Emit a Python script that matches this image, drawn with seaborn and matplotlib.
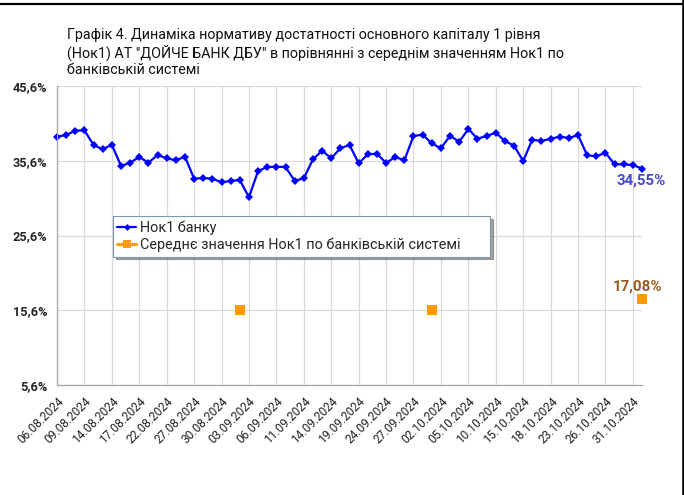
import numpy as np
import matplotlib
matplotlib.use("Agg")
import matplotlib.pyplot as plt
from matplotlib.lines import Line2D
from matplotlib.ticker import FuncFormatter
import seaborn as sns

# Нок1 банку, % (one value per reporting day)
nok1_bank = [38.82, 39.04, 39.62, 39.67, 37.71, 37.13, 37.75, 34.90, 35.34, 36.10,
             35.34, 36.37, 35.93, 35.66, 36.14, 33.20, 33.29, 33.20, 32.72, 32.89,
             33.02, 30.71, 34.23, 34.76, 34.80, 34.76, 32.93, 33.24, 35.79, 36.95,
             35.93, 37.27, 37.71, 35.26, 36.46, 36.55, 35.30, 36.10, 35.66, 38.91,
             39.09, 37.93, 37.27, 38.95, 38.13, 39.85, 38.55, 38.91, 39.35, 38.24,
             37.62, 35.57, 38.42, 38.24, 38.55, 38.82, 38.64, 39.04, 36.33, 36.19,
             36.68, 35.12, 35.12, 35.03, 34.55]

# середнє по банківській системі - only three reporting days
avg_idx = [20, 41, 64]
avg_system = [15.58, 15.58, 17.08]

tick_labels = ["06.08.2024", "09.08.2024", "14.08.2024", "17.08.2024", "22.08.2024",
               "27.08.2024", "30.08.2024", "03.09.2024", "06.09.2024", "11.09.2024",
               "14.09.2024", "19.09.2024", "24.09.2024", "27.09.2024", "02.10.2024",
               "05.10.2024", "10.10.2024", "15.10.2024", "18.10.2024", "23.10.2024",
               "26.10.2024", "31.10.2024"]

title = ("Графік 4. Динаміка нормативу достатності основного капіталу 1 рівня\n"
         "(Нок1) АТ \"ДОЙЧЕ БАНК ДБУ\" в порівнянні з середнім значенням Нок1 по\n"
         "банківській системі")

sns.set_theme(style="white")
plt.rcParams["font.family"] = ["Roboto", "DejaVu Sans"]

fig = plt.figure(figsize=(6.84, 4.95), dpi=100)
ax = fig.add_axes([57 / 684, 1 - 385 / 495, 585 / 684, 299 / 495])

x = np.arange(len(nok1_bank))
sns.lineplot(x=x, y=nok1_bank, ax=ax, color="#0000FF", linewidth=1.6,
             marker="D", markersize=4.5, markeredgewidth=0, clip_on=False)
sns.scatterplot(x=avg_idx, y=avg_system, ax=ax, color="#FF9A00", marker="s",
                s=45, linewidth=0, clip_on=False, zorder=3)

ax.set_xlim(0, len(nok1_bank) - 1)
ax.set_ylim(5.6, 45.6)
ax.set_yticks(np.arange(5.6, 45.7, 10))
ax.yaxis.set_major_formatter(FuncFormatter(lambda v, p: f"{v:.1f}%".replace(".", ",")))
ax.set_xticks(np.arange(0, len(nok1_bank), 3))
ax.set_xticklabels(tick_labels, rotation=45, ha="right", rotation_mode="anchor")

ax.grid(True, color="#D9D9D9", linewidth=0.9)
ax.set_axisbelow(True)
for side in ["top", "right"]:
    ax.spines[side].set_visible(False)
for side in ["left", "bottom"]:
    ax.spines[side].set_color("#A6A6A6")
    ax.spines[side].set_linewidth(0.9)
ax.tick_params(axis="both", length=4, width=0.8, color="#A6A6A6", pad=3)
ax.tick_params(axis="x", labelsize=8.6, labelcolor="#222222")
ax.tick_params(axis="y", labelsize=9.2)
for t in ax.get_yticklabels():
    t.set_fontweight("bold")

# data labels for the last day
ax.annotate("34,55%", (x[-1], nok1_bank[-1]), xytext=(-1, -12), textcoords="offset pixels",
            ha="center", va="center", fontsize=10.8, fontweight="bold", color="#4646C8",
            annotation_clip=False)
ax.annotate("17,08%", (avg_idx[-1], avg_system[-1]), xytext=(-4, 13), textcoords="offset pixels",
            ha="center", va="center", fontsize=10.8, fontweight="bold", color="#9C5A1E",
            annotation_clip=False)

handles = [Line2D([0], [0], color="#0000FF", lw=1.6, marker="D", ms=3.5, mew=0),
           Line2D([0], [0], color="#FF9A00", lw=2.2, marker="s", ms=6, mew=0)]
leg = fig.legend(handles, ["Нок1 банку", "Середнє значення Нок1 по банківській системі"],
                 loc="upper left", mode="expand",
                 bbox_to_anchor=(113 / 684, 1 - 216 / 495, 377 / 684, 0.0),
                 fontsize=10.4, frameon=True, fancybox=False, shadow=True,
                 handlelength=1.3, handletextpad=0.25, labelspacing=0.2,
                 borderpad=0.3, borderaxespad=0)
leg.get_frame().set_edgecolor("#7F93AE")
leg.get_frame().set_linewidth(0.8)

fig.text(67 / 684, 1 - 28 / 495, title, ha="left", va="top", fontsize=10.3,
         linespacing=1.18, color="#111111")

# outer frame of the original picture
fig.add_artist(Line2D([0, 1], [1 - 4.3 / 495] * 2, transform=fig.transFigure,
                      color="black", lw=1.6))
fig.add_artist(Line2D([1 - 1.3 / 684] * 2, [0, 1], transform=fig.transFigure,
                      color="black", lw=1.8))

fig.savefig("out.png", dpi=100, facecolor="white")
